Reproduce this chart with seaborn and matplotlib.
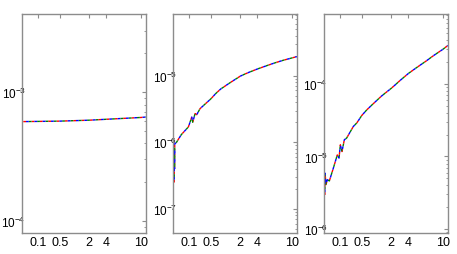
import numpy as np
import pandas as pd
import matplotlib
matplotlib.use('Agg')
import matplotlib.pyplot as plt
import seaborn as sns
from matplotlib.ticker import LogLocator, NullLocator, FixedLocator, FixedFormatter

sns.set_style('white')
plt.rcParams['font.family'] = ['Liberation Sans', 'DejaVu Sans']
plt.rcParams['mathtext.fontset'] = 'custom'
plt.rcParams['mathtext.rm'] = 'Liberation Sans'

# x tick values as labelled, and where they sit along the axis (fraction of width)
tick_vals = [0.1, 0.5, 2, 4, 10]
tick_labels = ['0.1', '0.5', '2', '4', '10']
anchor_x = [-1, 0, 0.1, 0.5, 2, 4, 10, 11, 100]
anchor_pos = [-1.28, 0, 0.128, 0.304, 0.540, 0.680, 0.957, 1.003, 5.1]

# panel 1
x1 = [0.006, 0.5, 2, 4, 10, 10.9]
y1 = [5.9e-4, 5.95e-4, 6.05e-4, 6.15e-4, 6.35e-4, 6.4e-4]

# panel 2
x2 = [0.006, 0.007, 0.008, 0.009, 0.02, 0.05, 0.095, 0.116, 0.148, 0.166,
      0.209, 0.24, 0.30, 0.5, 0.75, 1, 1.5, 2, 2.5, 3, 4, 5.5, 7, 8.5, 10, 10.9]
y2 = [2.5e-7, 8e-7, 4e-7, 9.5e-7, 1.0e-6, 1.3e-6, 1.7e-6, 2.0e-6, 2.4e-6, 2.0e-6,
      2.7e-6, 2.6e-6, 3.2e-6, 4.5e-6, 5.4e-6, 6.3e-6, 7.9e-6, 9.8e-6, 1.05e-5,
      1.12e-5, 1.26e-5, 1.4e-5, 1.55e-5, 1.7e-5, 1.84e-5, 1.93e-5]

# panel 3
x3 = [0.004, 0.0045, 0.011, 0.019, 0.032, 0.057, 0.082, 0.093, 0.104, 0.134,
      0.177, 0.22, 0.343, 0.405, 0.5, 0.75, 1, 1.5, 2, 2.5, 3, 4, 5.5, 7, 8.5,
      10, 10.9]
y3 = [2.95e-6, 5.9e-6, 4.1e-6, 4.8e-6, 4.6e-6, 6.9e-6, 1.05e-5, 9.5e-6, 1.45e-5,
      1.17e-5, 1.7e-5, 1.8e-5, 2.6e-5, 2.9e-5, 3.7e-5, 4.4e-5, 5.1e-5, 6.8e-5,
      8.7e-5, 9.8e-5, 1.11e-4, 1.4e-4, 1.7e-4, 2.05e-4, 2.5e-4, 3.0e-4, 3.4e-4]

ylims = [(8.07e-5, 4.03e-3), (4.37e-8, 8.41e-5), (8.8e-7, 9.25e-4)]
lefts = [22.3, 173.3, 324.3]


def fwd(x):
    return np.interp(x, anchor_x, anchor_pos)


def inv(p):
    return np.interp(p, anchor_pos, anchor_x)


fig = plt.figure(figsize=(4.57, 2.55), dpi=100)
gray = '#8c8c8c'
for (xs, ys), yl, left in zip([(x1, y1), (x2, y2), (x3, y3)], ylims, lefts):
    ax = fig.add_axes([left / 457, 1 - 234 / 255, 123.7 / 457, 219 / 255])
    df = pd.DataFrame({'x': xs, 'y': ys})
    for c, off in zip(['red', 'green', 'blue'], [0, 2, 4]):
        sns.lineplot(data=df, x='x', y='y', color=c, lw=1.0,
                     linestyle=(off, (2, 4)), ax=ax, sort=False)
    ax.set_xscale('function', functions=(fwd, inv))
    ax.set_yscale('log')
    ax.set_xlim(0, 10.93)
    ax.set_ylim(*yl)
    ax.xaxis.set_major_locator(FixedLocator(tick_vals))
    ax.xaxis.set_major_formatter(FixedFormatter(tick_labels))
    ax.xaxis.set_minor_locator(NullLocator())
    ax.yaxis.set_major_locator(LogLocator(base=10, numticks=10))
    ax.yaxis.set_minor_locator(LogLocator(base=10, subs=np.arange(2, 10), numticks=10))
    ax.set_xlabel('')
    ax.set_ylabel('')
    for s in ax.spines.values():
        s.set_color(gray)
        s.set_linewidth(1.0)
    ax.tick_params(which='both', direction='in', top=True, right=True,
                   color=gray, labelcolor='black')
    ax.tick_params(axis='x', labelsize=9, pad=2)
    ax.tick_params(axis='y', labelsize=8.5, pad=-2.5)
    ax.tick_params(which='major', length=3, width=0.8)
    ax.tick_params(which='minor', length=1.5, width=0.6)

fig.savefig('out.png', dpi=100)
